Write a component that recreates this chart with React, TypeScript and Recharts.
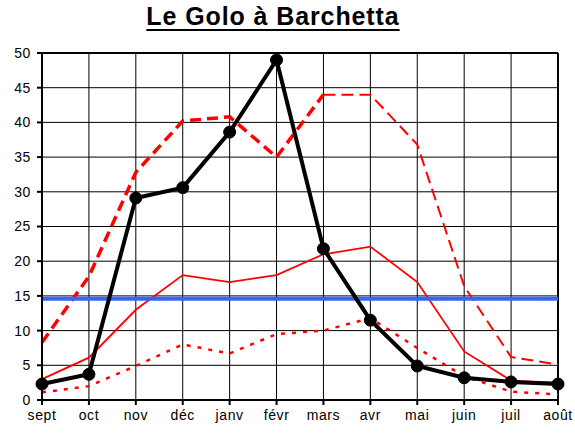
import React from "react";
import {
  LineChart,
  Line,
  XAxis,
  YAxis,
  CartesianGrid,
  ReferenceLine,
} from "recharts";

const months = ["sept", "oct", "nov", "déc", "janv", "févr", "mars", "avr", "mai", "juin", "juil", "août"];
const debit = [2.3, 3.7, 29.1, 30.6, 38.6, 49, 21.8, 11.5, 4.9, 3.2, 2.6, 2.3];
const maxi = [8.3, 17.8, 32.8, 40.2, 40.8, 35, 44, 44, 36.8, 16.4, 6.2, 5.1];
const moyen = [3, 6.1, 13, 18, 17, 18, 21, 22.1, 17, 7, 2.8, 2.5];
const mini = [1.1, 2, 4.9, 8, 6.7, 9.5, 10, 11.8, 7.5, 3.4, 1.2, 0.8];
const module = 14.6;
const yTicks = [0, 5, 10, 15, 20, 25, 30, 35, 40, 45, 50];

// the maxi curve is drawn heavier up to march, lighter after (as in the sheet)
const splitAt = 6;

const data = months.map((m, i) => ({
  month: m,
  debit: debit[i],
  maxiA: i <= splitAt ? maxi[i] : null,
  maxiB: i >= splitAt ? maxi[i] : null,
  moyen: moyen[i],
  mini: mini[i],
}));

const font = "Arial, 'Liberation Sans', sans-serif";
const tickStyle = { fill: "#000", fontSize: 14, fontFamily: font, letterSpacing: 0.6 };

export default function App() {
  return (
    <div style={{ position: "absolute", left: 0, top: 0, width: 575, height: 433, background: "#fff" }}>
      <div
        style={{
          position: "absolute",
          left: 0,
          top: 2,
          width: 546,
          textAlign: "center",
          fontFamily: font,
          fontWeight: "bold",
          fontSize: 25,
          letterSpacing: 0.9,
          textDecoration: "underline",
          textDecorationThickness: 2,
          textUnderlineOffset: 4,
          color: "#000",
        }}
      >
        Le Golo à Barchetta
      </div>
      <LineChart
        width={575}
        height={433}
        data={data}
        margin={{ top: 53, right: 17, bottom: 0, left: 0 }}
      >
        <CartesianGrid stroke="#000" strokeWidth={1} />
        <XAxis
          dataKey="month"
          stroke="#000"
          strokeWidth={2}
          tickSize={5}
          tickMargin={5}
          height={33}
          tick={tickStyle}
        />
        <YAxis
          domain={[0, 50]}
          ticks={yTicks}
          stroke="#000"
          strokeWidth={2}
          tickSize={5}
          tickMargin={6}
          width={42}
          tick={tickStyle}
        />
        <ReferenceLine y={50} stroke="#000" strokeWidth={2} />
        <ReferenceLine x="août" stroke="#000" strokeWidth={2} />
        <Line
          dataKey="mini"
          stroke="#ff0000"
          strokeWidth={2.5}
          strokeDasharray="4 7"
          dot={false}
          isAnimationActive={false}
        />
        <Line
          dataKey="moyen"
          stroke="#ff0000"
          strokeWidth={1.8}
          dot={false}
          isAnimationActive={false}
        />
        <Line
          dataKey="maxiA"
          stroke="#ff0000"
          strokeWidth={3.5}
          strokeDasharray="11 6"
          dot={false}
          isAnimationActive={false}
        />
        <Line
          dataKey="maxiB"
          stroke="#ff0000"
          strokeWidth={2}
          strokeDasharray="12 6"
          dot={false}
          isAnimationActive={false}
        />
        <ReferenceLine y={module} stroke="#3366ff" strokeWidth={4} />
        <Line
          dataKey="debit"
          stroke="#000"
          strokeWidth={4}
          dot={{ r: 6, fill: "#000", stroke: "#000", strokeWidth: 1 }}
          isAnimationActive={false}
        />
      </LineChart>
    </div>
  );
}
